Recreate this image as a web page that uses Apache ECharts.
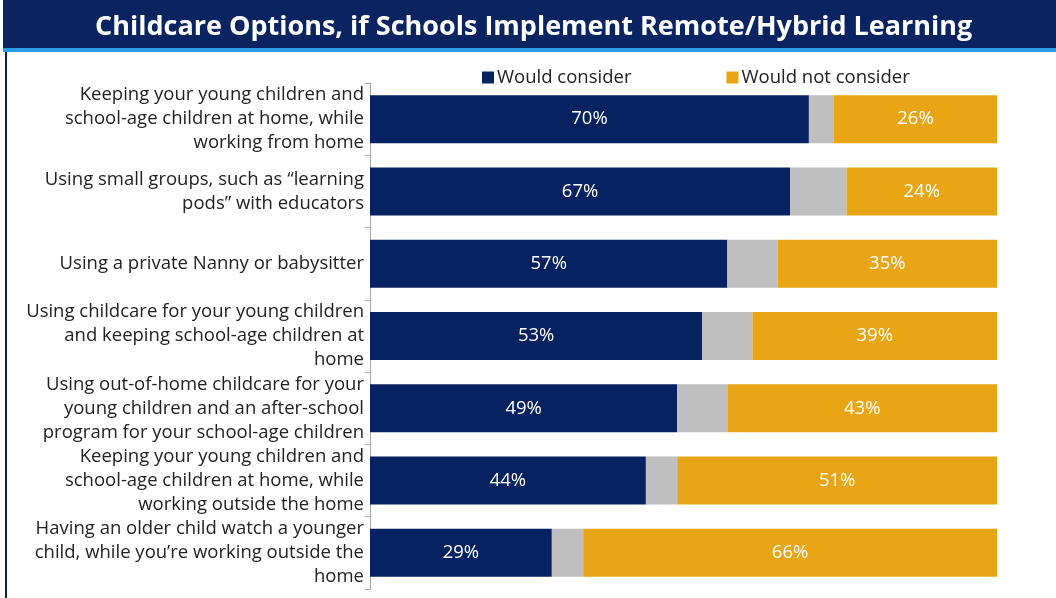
<!DOCTYPE html>
<html>
<head>
<meta charset="utf-8">
<script src="https://cdn.jsdelivr.net/npm/echarts@6/dist/echarts.min.js"></script>
<style>
  html, body { margin: 0; padding: 0; background: #fff; }
  #chart { width: 1056px; height: 598px; }
</style>
</head>
<body>
<div id="chart"></div>
<script>
// 类目（从上到下）
const categories = [
  "Keeping your young children and\nschool-age children at home, while\nworking from home",
  "Using small groups, such as \u201clearning\npods\u201d with educators",
  "Using a private Nanny or babysitter",
  "Using childcare for your young children\nand keeping school-age children at\nhome",
  "Using out-of-home childcare for your\nyoung children and an after-school\nprogram for your school-age children",
  "Keeping your young children and\nschool-age children at home, while\nworking outside the home",
  "Having an older child watch a younger\nchild, while you\u2019re working outside the\nhome"
];
const wouldConsider = [70, 67, 57, 53, 49, 44, 29];
const notSure = [4, 9, 8, 8, 8, 5, 5];
const wouldNotConsider = [26, 24, 35, 39, 43, 51, 66];

const font = "'Open Sans', 'Noto Sans', sans-serif";

const chart = echarts.init(document.getElementById("chart"));

const options = {
  animation: false,
  textStyle: { fontFamily: font },
  graphic: [
    // 标题栏
    { type: "rect", left: 3, top: 0, shape: { width: 1053, height: 48 }, style: { fill: "#0A2462" } },
    { type: "rect", left: 3, top: 48, shape: { width: 1053, height: 4 }, style: { fill: "#2E9BE6" } },
    { type: "rect", left: 5, top: 52, shape: { width: 2, height: 546 }, style: { fill: "#0A2462" } },
    {
      type: "text",
      left: 95,
      top: 14,
      style: {
        text: "Childcare Options, if Schools Implement Remote/Hybrid Learning",
        fill: "#fff",
        font: "bold 27px " + font
      }
    }
  ],
  legend: {
    data: ["Would consider", "Would not consider"],
    top: 63,
    left: 477,
    itemWidth: 12,
    itemHeight: 12,
    itemGap: 95,
    icon: "rect",
    textStyle: { color: "#222", fontSize: 18.5, fontFamily: font, padding: [0, 0, 0, -2] }
  },
  grid: {
    left: 370,
    right: 59,
    top: 83,
    bottom: 9
  },
  xAxis: {
    type: "value",
    min: 0,
    max: 100,
    show: false
  },
  yAxis: {
    type: "category",
    inverse: true,
    data: categories,
    axisLine: { show: true, lineStyle: { color: "#A6A6A6", width: 1 } },
    axisTick: { show: true, length: 5, lineStyle: { color: "#A6A6A6" } },
    axisLabel: {
      color: "#222",
      fontSize: 18.5,
      lineHeight: 24,
      margin: 6,
      align: "right",
      fontFamily: font
    }
  },
  series: [
    {
      name: "Would consider",
      type: "bar",
      stack: "total",
      barWidth: 48,
      data: wouldConsider,
      itemStyle: { color: "#062260" },
      label: { show: true, position: "inside", color: "#fff", fontSize: 18.5, formatter: "{c}%" }
    },
    {
      name: "Not sure",
      type: "bar",
      stack: "total",
      barWidth: 48,
      data: notSure,
      itemStyle: { color: "#BFBFBF" }
    },
    {
      name: "Would not consider",
      type: "bar",
      stack: "total",
      barWidth: 48,
      data: wouldNotConsider,
      itemStyle: { color: "#E8A515" },
      label: { show: true, position: "inside", color: "#fff", fontSize: 18.5, formatter: "{c}%" }
    }
  ]
};

chart.setOption(options);

window.addEventListener("resize", () => {
  chart.resize();
});
</script>
</body>
</html>
